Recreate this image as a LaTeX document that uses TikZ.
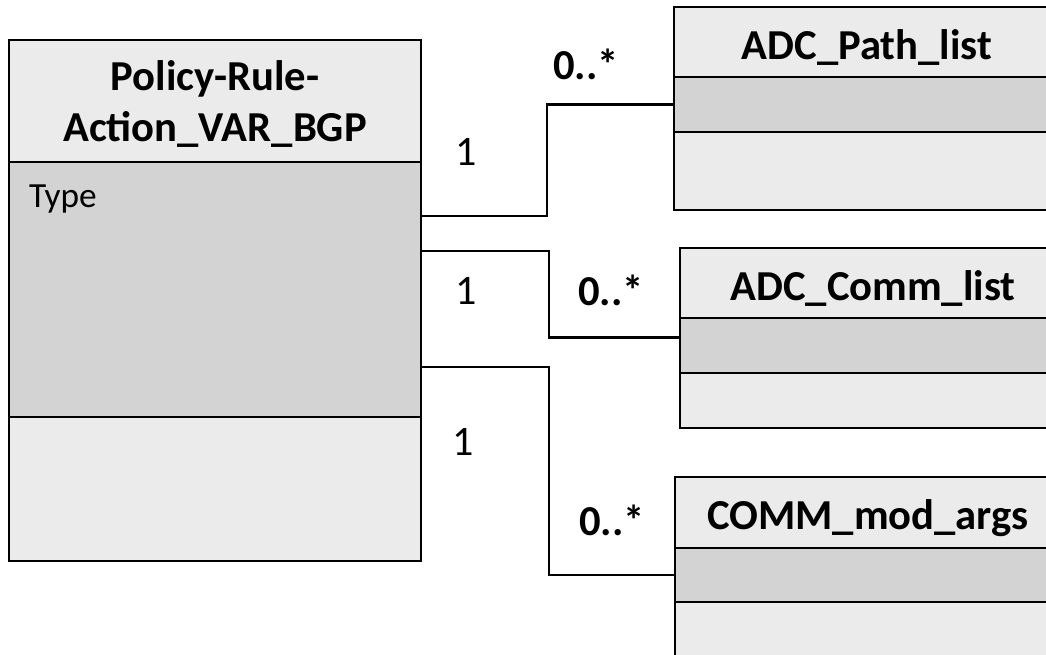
\documentclass[tikz,border=0pt]{standalone}
\usepackage{fontspec}
\setmainfont{Carlito}
\usetikzlibrary{positioning, calc}
\definecolor{headgray}{HTML}{EBEBEB}
\definecolor{attrgray}{HTML}{D3D3D3}

\begin{document}
\begin{tikzpicture}[
    x=0.75pt, y=-0.75pt,
    every node/.style={inner sep=0pt, outer sep=0pt},
    part/.style={
        rectangle,
        draw=black,
        line width=2.2pt,
        anchor=north west
    },
    head/.style={
        part,
        fill=headgray,
        align=center,
        text height=26pt,
        text depth=0pt,
        font=\fontsize{32}{38.25}\selectfont\bfseries
    },
    bighead/.style={
        part,
        fill=headgray,
        align=center,
        font=\fontsize{32}{38.25}\selectfont\bfseries
    },
    attr/.style={part, fill=attrgray},
    ops/.style={part, fill=headgray},
    link/.style={
        line width=1.6pt,
        draw=black
    },
    mult/.style={font=\fontsize{31.5}{38}\selectfont},
    multbold/.style={font=\fontsize{32}{38}\selectfont\bfseries},
    attrtext/.style={font=\fontsize{26.5}{32}\selectfont}
]
\useasboundingbox (0,0) rectangle (1046,655);
\clip (0,0) rectangle (1046,655);

% Class: Policy-Rule-Action_VAR_BGP
\node[bighead, minimum width=309pt, minimum height=91.5pt] (rabhead) at (9,40) {\rule{0pt}{27pt}Policy-Rule-\\Action\_VAR\_BGP};
\node[attr, below=0pt of rabhead, minimum width=309pt, minimum height=191.25pt] (rabattr) {};
\node[ops, below=0pt of rabattr, minimum width=309pt, minimum height=108pt] (rabops) {};
\node[attrtext, anchor=base west] (type) at ($(rabattr.north west)+(20,46)$) {Type};

% Class: ADC_Path_list
\node[head, minimum width=289.5pt, minimum height=52.5pt] (pathhead) at (674,7) {ADC\_Path\_list};
\node[attr, below=0pt of pathhead, minimum width=289.5pt, minimum height=41.25pt] (pathattr) {};
\node[ops, below=0pt of pathattr, minimum width=289.5pt, minimum height=58.5pt] (pathops) {};

% Class: ADC_Comm_list
\node[head, minimum width=289.5pt, minimum height=52.5pt] (commhead) at (680,248) {ADC\_Comm\_list};
\node[attr, below=0pt of commhead, minimum width=289.5pt, minimum height=41.25pt] (commattr) {};
\node[ops, below=0pt of commattr, minimum width=289.5pt, minimum height=41.25pt] (commops) {};

% Class: COMM_mod_args
\node[head, minimum width=289.5pt, minimum height=53.25pt] (argshead) at (675,477) {COMM\_mod\_args};
\node[attr, below=0pt of argshead, minimum width=289.5pt, minimum height=40.5pt] (argsattr) {};
\node[ops, below=0pt of argsattr, minimum width=289.5pt, minimum height=58.5pt] (argsops) {};

% Associations
\draw[link] ($(rabattr.north east)+(0,54)$) -- ++(126,0) |- (pathattr.west);
\draw[link] ($(rabattr.north east)+(0,89)$) -- ++(128,0) |- ($(commattr.west)+(0,-8)$);
\draw[link] ($(rabattr.north east)+(0,205)$) -- ++(128,0) |- (argsattr.west);

% Multiplicities
\node[mult] (onepath) at (466,152) {1};
\node[mult] (onecomm) at (466,291) {1};
\node[mult] (oneargs) at (463,442) {1};
\node[multbold] (manypath) at (586,64) {0..*};
\node[multbold] (manycomm) at (611,290) {0..*};
\node[multbold] (manyargs) at (612,520) {0..*};

\end{tikzpicture}
\end{document}
